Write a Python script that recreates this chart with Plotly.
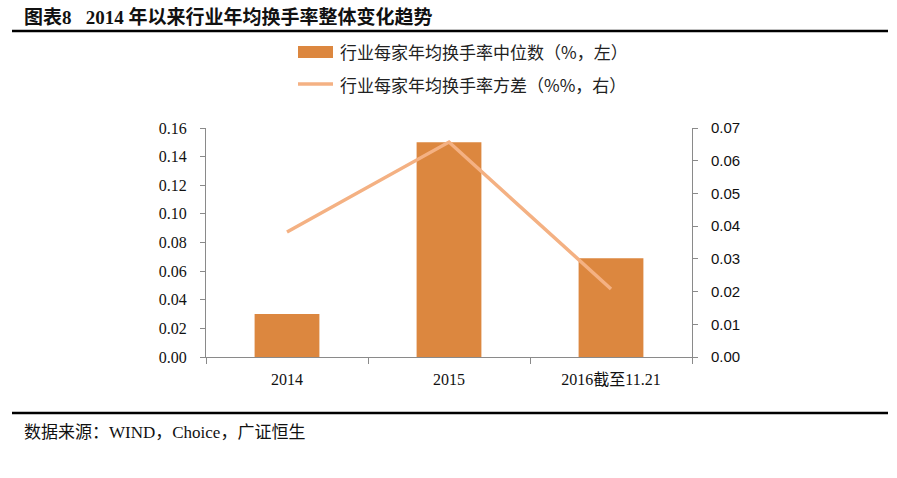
import plotly.graph_objects as go

categories = ["2014", "2015", "2016截至11.21"]
median_vals = [0.030, 0.150, 0.069]
variance_vals = [0.0382, 0.0657, 0.0208]
left_ticks = [0.00, 0.02, 0.04, 0.06, 0.08, 0.10, 0.12, 0.14, 0.16]
right_ticks = [0.00, 0.01, 0.02, 0.03, 0.04, 0.05, 0.06, 0.07]
legend_names = ["行业每家年均换手率中位数（%，左）", "行业每家年均换手率方差（%%，右）"]

serif = "Liberation Serif, Noto Sans CJK SC"
cjk = "Noto Sans CJK SC"
bar_col = "#DC873F"
line_col = "#F4B183"

L, R, T, B = 206, 692, 128, 357
PW, PH = R - L, B - T


def px(x):
    return (x - L) / PW


def py(y):
    return (B - y) / PH


fig = go.Figure()
fig.add_trace(go.Bar(
    x=categories, y=median_vals, name=legend_names[0],
    marker=dict(color=bar_col, line=dict(width=0)), width=0.4, yaxis="y",
))
fig.add_trace(go.Scatter(
    x=categories, y=variance_vals, name=legend_names[1],
    mode="lines", line=dict(color=line_col, width=3.5), yaxis="y2",
))

axis_col = "#8a8a8a"
fig.update_layout(
    width=897, height=478,
    margin=dict(l=L, r=897 - R, t=T, b=478 - B),
    paper_bgcolor="white", plot_bgcolor="white",
    showlegend=False,
    xaxis=dict(type="category", showline=True, linecolor=axis_col, linewidth=1,
               ticks="outside", tickson="boundaries", ticklen=6, tickcolor=axis_col,
               tickfont=dict(family=serif, size=16, color="#111"),
               ticklabelstandoff=8,
               showgrid=False, zeroline=False, range=[-0.5, 2.5]),
    yaxis=dict(range=[0, 0.16], tickvals=left_ticks, tickformat=".2f",
               showline=True, linecolor=axis_col, linewidth=1,
               ticks="outside", ticklen=5, tickcolor=axis_col,
               tickfont=dict(family=serif, size=16, color="#111"),
               ticklabelstandoff=10,
               showgrid=False, zeroline=False),
    yaxis2=dict(range=[0, 0.07], tickvals=right_ticks, tickformat=".2f",
                overlaying="y", side="right",
                showline=True, linecolor=axis_col, linewidth=1,
                ticks="outside", ticklen=5, tickcolor=axis_col,
                tickfont=dict(family="Liberation Sans", size=15, color="#111"),
                ticklabelstandoff=10,
                showgrid=False, zeroline=False),
)

# Custom legend
fig.add_shape(type="rect", xref="paper", yref="paper",
              x0=px(298), x1=px(333), y0=py(58), y1=py(46),
              fillcolor=bar_col, line=dict(width=0))
fig.add_shape(type="line", xref="paper", yref="paper",
              x0=px(298), x1=px(333), y0=py(84), y1=py(84),
              line=dict(color=line_col, width=3.5))
for name, yy in zip(legend_names, [52, 84]):
    fig.add_annotation(text=name, xref="paper", yref="paper", x=px(338), y=py(yy),
                       xanchor="left", yanchor="middle", showarrow=False,
                       font=dict(family=cjk, size=17, color="#222"))

# Title and source
fig.add_annotation(text="<b>图表8   2014 年以来行业年均换手率整体变化趋势</b>",
                   xref="paper", yref="paper", x=px(22), y=py(17),
                   xanchor="left", yanchor="middle", showarrow=False,
                   font=dict(family=serif, size=19, color="#111"))
fig.add_annotation(text="数据来源：WIND，Choice，广证恒生",
                   xref="paper", yref="paper", x=px(22), y=py(432),
                   xanchor="left", yanchor="middle", showarrow=False,
                   font=dict(family=serif, size=17, color="#111"))
# Horizontal rules
for yy in [31, 413]:
    fig.add_shape(type="line", xref="paper", yref="paper",
                  x0=px(12), x1=px(888), y0=py(yy), y1=py(yy),
                  line=dict(color="black", width=2.5))

fig.write_html("out.html")
